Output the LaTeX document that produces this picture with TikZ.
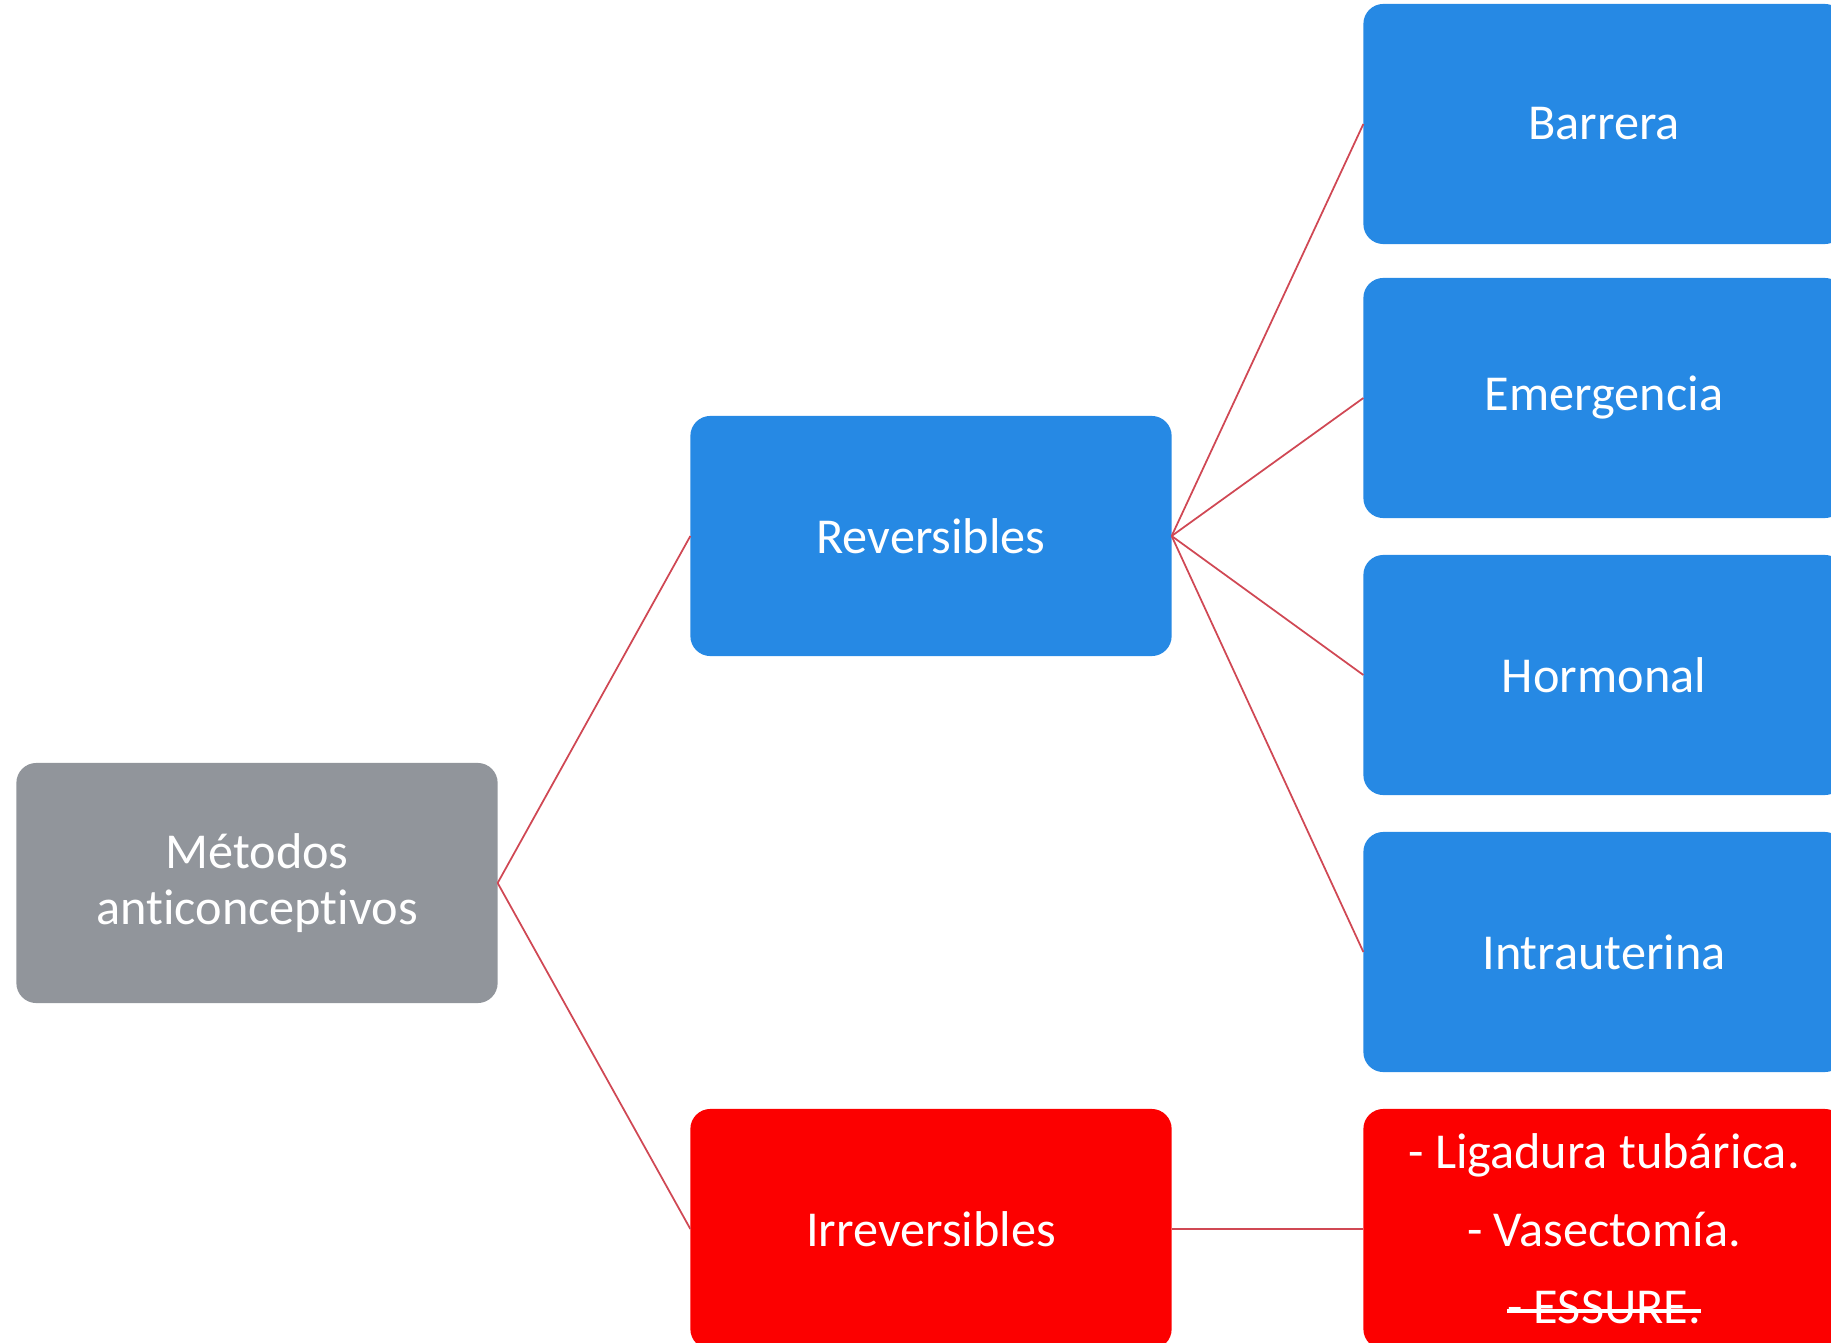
\documentclass[tikz,border=0pt]{standalone}
\usepackage{fontspec}
\setmainfont{Carlito}[Ligatures=NoCommon]
\newcommand\strikeout[1]{\setbox0\hbox{#1}\rlap{\rule[0.22em]{\wd0}{0.07em}}\box0}
\definecolor{boxblue}{RGB}{38,137,228}
\definecolor{boxgray}{RGB}{145,149,155}
\definecolor{boxred}{RGB}{252,0,0}
\definecolor{linkred}{RGB}{208,72,84}
\begin{document}
\begin{tikzpicture}[x=0.01cm, y=-0.01cm,
    box/.style={rectangle, rounded corners=0.2cm, minimum width=4.81cm, minimum height=2.4cm,
      inner sep=0pt, outer sep=0pt, text=white, align=center, font=\fontsize{14.3}{16}\selectfont},
    link/.style={draw=linkred, line width=0.5pt}]
        \useasboundingbox (0,0) rectangle (1831,1343);
        \clip (0,0) rectangle (1831,1343);
        % Nodes (left to right)
        \node (root) at (257,883) [box, fill=boxgray] {Métodos\\anticonceptivos};
        \node (rev) at (931,536) [box, fill=boxblue] {Reversibles};
        \node (irr) at (931,1229) [box, fill=boxred] {Irreversibles};
        \node (barrera) at (1604,124) [box, fill=boxblue] {Barrera};
        \node (emerg) at (1604,398) [box, fill=boxblue] {Emergencia};
        \node (hormonal) at (1604,675) [box, fill=boxblue] {Hormonal};
        \node (diu) at (1604,952) [box, fill=boxblue] {Intrauterina};
        \node (defin) at (1604,1229) [box, fill=boxred, font=\fontsize{14.3}{22}\selectfont]
          {- Ligadura tubárica.\\- Vasectomía.\\\strikeout{- ESSURE.}};
        % Edges
        \draw[link] (root.east) -- (rev.west);
        \draw[link] (root.east) -- (irr.west);
        \draw[link] (rev.east) -- (barrera.west);
        \draw[link] (rev.east) -- (emerg.west);
        \draw[link] (rev.east) -- (hormonal.west);
        \draw[link] (rev.east) -- (diu.west);
        \draw[link] (irr.east) -- (defin.west);
      \end{tikzpicture}
\end{document}
